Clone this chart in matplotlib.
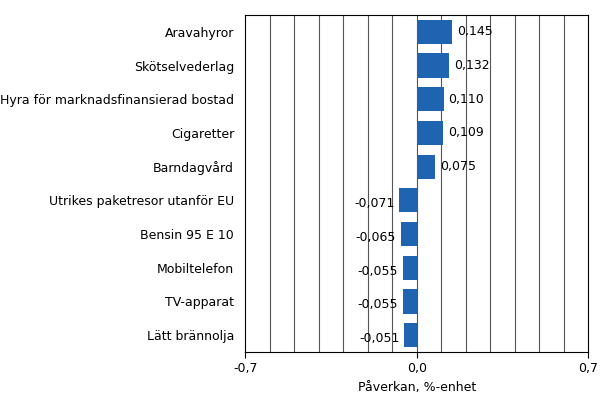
import matplotlib
matplotlib.use("Agg")
import matplotlib.pyplot as plt
import numpy as np

categories = ["Aravahyror", "Skötselvederlag", "Hyra för marknadsfinansierad bostad",
              "Cigaretter", "Barndagvård", "Utrikes paketresor utanför EU",
              "Bensin 95 E 10", "Mobiltelefon", "TV-apparat", "Lätt brännolja"]
values = [0.145, 0.132, 0.110, 0.109, 0.075, -0.071, -0.065, -0.055, -0.055, -0.051]
tick_vals = [-0.7, 0.0, 0.7]
tick_labels = ["-0,7", "0,0", "0,7"]

fig = plt.figure(figsize=(6.07, 4.18), dpi=100)
ax = fig.add_axes([0.404, 0.158, 0.565, 0.806])
y = np.arange(len(categories))
ax.set_xlim(-0.7, 0.7)
ax.set_ylim(len(categories) - 0.5, -0.5)
for g in np.arange(-0.6, 0.7, 0.1):
    ax.axvline(g, color="#555555", lw=0.8, zorder=0)
ax.barh(y, values, height=0.72, color="#1f64b0", zorder=2)
for yi, v in zip(y, values):
    s = f"{v:.3f}".replace(".", ",")
    if v >= 0:
        ax.text(v + 0.02, yi, s, va="center", ha="left", fontsize=9)
    else:
        ax.text(v - 0.02, yi + 0.1, s, va="center", ha="right", fontsize=9)
ax.set_yticks(y)
ax.set_yticklabels(categories, fontsize=9)
ax.tick_params(axis="y", length=0, pad=8)
ax.set_xticks(tick_vals)
ax.set_xticklabels(tick_labels, fontsize=9)
ax.tick_params(axis="x", length=4)
ax.set_xlabel("Påverkan, %-enhet", fontsize=9)
for sp in ax.spines.values():
    sp.set_color("black"); sp.set_linewidth(0.8)
fig.savefig("out.png", dpi=100)
